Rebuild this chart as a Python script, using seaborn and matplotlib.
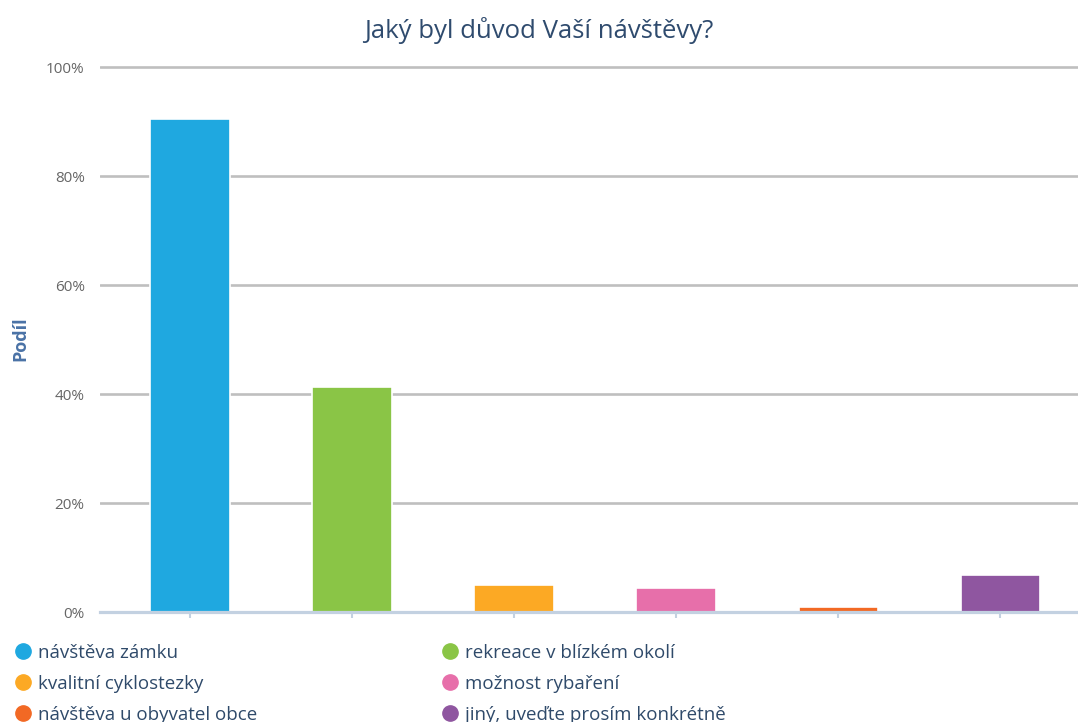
import matplotlib
matplotlib.use("Agg")
import matplotlib.pyplot as plt
from matplotlib.lines import Line2D
import seaborn as sns
import pandas as pd

# Survey answers and their shares (%)
categories = [
    "návštěva zámku",
    "rekreace v blízkém okolí",
    "kvalitní cyklostezky",
    "možnost rybaření",
    "návštěva u obyvatel obce",
    "jiný, uveďte prosím konkrétně",
]
shares = [90.5, 41.3, 5.0, 4.4, 1.0, 6.8]
colors = ["#1fa8e0", "#8ac546", "#fca924", "#e76faa", "#f26924", "#8f56a0"]
y_ticks = [0, 20, 40, 60, 80, 100]
y_tick_labels = ["0%", "20%", "40%", "60%", "80%", "100%"]

sns.set_theme(style="white")
plt.rcParams["font.family"] = ["Open Sans", "DejaVu Sans"]

df = pd.DataFrame({"kategorie": categories, "podil": shares})

fig = plt.figure(figsize=(10.78, 7.22), dpi=100)
ax = fig.add_axes([100 / 1078, 110 / 722, 978 / 1078, 547 / 722])

sns.barplot(
    data=df, x="kategorie", y="podil", hue="kategorie",
    palette=colors, order=categories, hue_order=categories, saturation=1,
    width=0.49, edgecolor="white", linewidth=1.2, legend=False, ax=ax,
)

ax.set_axisbelow(True)
ax.yaxis.grid(True, color="#bfbfbf", linewidth=1.9)
ax.xaxis.grid(False)
ax.set_ylim(0, 100.37)
ax.set_xlim(-0.556, 5.48)
ax.set_yticks(y_ticks)
ax.set_yticklabels(y_tick_labels, color="#666666", fontsize=11)
ax.tick_params(axis="y", length=0, pad=11)
ax.tick_params(axis="x", direction="out", length=4.5, width=1.5,
               color="#c3d1e1", labelbottom=False, bottom=True)
ax.set_xlabel("")
ax.set_ylabel("Podíl", color="#4a72a6", fontsize=13, fontweight="bold", labelpad=12)

for side in ("top", "right", "left"):
    ax.spines[side].set_visible(False)
ax.spines["bottom"].set_color("#c3d1e1")
ax.spines["bottom"].set_linewidth(2.3)

fig.text(0.5, 1 - 31 / 722, "Jaký byl důvod Vaší návštěvy?", ha="center", va="center",
         fontsize=18.5, color="#2f4b6e")

# Two-column legend below the plot
def make_handles(idx):
    return [Line2D([0], [0], marker="o", linestyle="none", markersize=11,
                   markerfacecolor=colors[i], markeredgecolor=colors[i]) for i in idx]

for idx, x0 in (([0, 2, 4], 15 / 1078), ([1, 3, 5], 442 / 1078)):
    leg = fig.legend(
        make_handles(idx), [categories[i] for i in idx],
        loc="upper left", bbox_to_anchor=(x0, 1 - 644 / 722),
        frameon=False, fontsize=13.5, labelcolor="#2f4a6a",
        handlelength=0.8, handletextpad=0.45, labelspacing=0.69, borderaxespad=0,
        borderpad=0,
    )

fig.savefig("out.png", dpi=100)
